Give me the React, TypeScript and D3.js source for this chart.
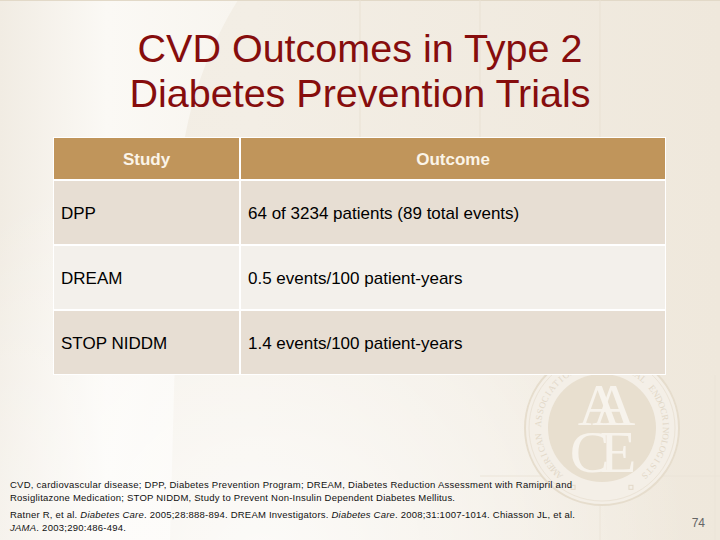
import React from 'react';
import * as d3 from 'd3';

// ---------- data ----------
const titleLines = ['CVD Outcomes in Type 2', 'Diabetes Prevention Trials'];
const headers = ['Study', 'Outcome'];
const studies = ['DPP', 'DREAM', 'STOP NIDDM'];
const outcomes = [
  '64 of 3234 patients (89 total events)',
  '0.5 events/100 patient-years',
  '1.4 events/100 patient-years',
];
const abbreviationLines = [
  'CVD, cardiovascular disease; DPP, Diabetes Prevention Program; DREAM, Diabetes Reduction Assessment with Ramipril and',
  'Rosiglitazone Medication; STOP NIDDM, Study to Prevent Non-Insulin Dependent Diabetes Mellitus.',
];
// segments: [text, italic]
const referenceLines: [string, boolean][][] = [
  [
    ['Ratner R, et al. ', false],
    ['Diabetes Care', true],
    ['. 2005;28:888-894. DREAM Investigators. ', false],
    ['Diabetes Care', true],
    ['. 2008;31:1007-1014. Chiasson JL, et al.', false],
  ],
  [
    ['JAMA', true],
    ['. 2003;290:486-494.', false],
  ],
];
const pageNumber = '74';
const sealRingText = 'AMERICAN ASSOCIATION OF CLINICAL ENDOCRINOLOGISTS';
const sealLetters = ['AA', 'CE'];

// ---------- layout ----------
const W = 720;
const H = 540;
const SANS = '"Liberation Sans", Arial, Helvetica, sans-serif';
const SERIF = '"Liberation Serif", "Times New Roman", serif';

export default function App() {
  const tableLeft = 53;
  const tableRight = 666;
  const colSplit = 240;
  const headerTop = 137;
  const headerBottom = 180;
  const tableBottom = 375;

  const xCol = d3.scaleOrdinal<string, number>().domain(headers).range([tableLeft, colSplit]);
  const colWidth = (h: string) => (h === headers[0] ? colSplit - tableLeft : tableRight - colSplit);
  const yRow = d3.scaleBand<string>().domain(studies).range([headerBottom, tableBottom]);
  const rowFill = ['#e7ded3', '#f3f0eb', '#e7ded3'];

  const abbrWidths = [562, 445];
  const refWidths = [565, 116];

  // seal
  const cx = 602;
  const cy = 428;
  const rOuter = 77;
  const rText = 64;
  const chars = sealRingText.split('');
  const angle = d3
    .scalePoint<number>()
    .domain(d3.range(chars.length))
    .range([-138, 138]);
  const pt = (deg: number, r: number) => {
    const a = (deg * Math.PI) / 180;
    return [cx + r * Math.sin(a), cy - r * Math.cos(a)];
  };
  const dots = [-154, 154].map((deg) => pt(deg, rText + 2));

  const curve = d3.path();
  curve.moveTo(0, 0);
  curve.lineTo(238, 0);
  curve.bezierCurveTo(210, 45, 188, 100, 180, 170);
  curve.lineTo(170, H);
  curve.lineTo(0, H);
  curve.closePath();

  return (
    <svg
      width={W}
      height={H}
      viewBox={`0 0 ${W} ${H}`}
      style={{ position: 'absolute', left: 0, top: 0, display: 'block' }}
    >
      <defs>
        <linearGradient id="bgBase" x1="0" x2="1" y1="0" y2="0">
          <stop offset="0" stopColor="#f2ede3" />
          <stop offset="0.35" stopColor="#f3eee5" />
          <stop offset="1" stopColor="#efe8dc" />
        </linearGradient>
        <linearGradient id="leftLight" x1="0" x2="238" y1="0" y2="0" gradientUnits="userSpaceOnUse">
          <stop offset="0" stopColor="#f1ece3" />
          <stop offset="0.45" stopColor="#fbf9f5" />
          <stop offset="1" stopColor="#f8f5ef" />
        </linearGradient>
        <radialGradient id="bottomGlow" cx="260" cy="560" r="430" gradientUnits="userSpaceOnUse">
          <stop offset="0" stopColor="#ffffff" stopOpacity="0.75" />
          <stop offset="0.6" stopColor="#ffffff" stopOpacity="0.35" />
          <stop offset="1" stopColor="#ffffff" stopOpacity="0" />
        </radialGradient>
      </defs>

      {/* background */}
      <rect x={0} y={0} width={W} height={H} fill="url(#bgBase)" />
      <path d={curve.toString()} fill="url(#leftLight)" />
      <rect x={0} y={0} width={W} height={H} fill="url(#bottomGlow)" />
      <line x1={0} x2={W} y1={0.5} y2={0.5} stroke="#e2d9c8" strokeWidth={1} />
      {[360, 480, 600].map((x) => (
        <line key={x} x1={x} x2={x} y1={0} y2={headerTop} stroke="#e9e1d3" strokeWidth={1} />
      ))}
      <line x1={600} x2={600} y1={tableBottom} y2={H} stroke="#ebe4d8" strokeWidth={1} />
      <line x1={715} x2={715} y1={tableBottom} y2={H} stroke="#ebe4d8" strokeWidth={1} />
      <line x1={480} x2={W} y1={476} y2={476} stroke="#ebe4d8" strokeWidth={1} />

      {/* seal */}
      <g>
        <circle cx={cx} cy={cy} r={rOuter} fill="#f4efe7" stroke="#e6ddcd" strokeWidth={2} />
        <circle cx={cx} cy={cy} r={rOuter - 4} fill="none" stroke="#ebe3d6" strokeWidth={1} />
        <circle cx={cx} cy={cy} r={54} fill="#e8dfcf" />
        {chars.map((c, i) => {
          const deg = angle(i)!;
          const [px, py] = pt(deg, rText);
          return (
            <text
              key={i}
              x={px}
              y={py}
              textAnchor="middle"
              dominantBaseline="central"
              transform={`rotate(${deg} ${px} ${py})`}
              fontFamily={SERIF}
              fontSize={9}
              fill="#e2d8c7"
            >
              {c}
            </text>
          );
        })}
        {dots.map(([dx, dy], i) => (
          <rect key={i} x={dx - 2} y={dy - 2} width={4} height={4} fill="none" stroke="#e2d8c7" strokeWidth={1} />
        ))}
        <text textAnchor="middle" fontFamily={SERIF} fontSize={60} fill="#f7f3ec">
          {sealLetters.map((t, i) => (
            <tspan
              key={t}
              x={i === 0 ? cx - 10 : cx - 4}
              y={i === 0 ? 425 : 472}
              letterSpacing={i === 0 ? -29 : -10}
            >
              {t}
            </tspan>
          ))}
        </text>
      </g>

      {/* title */}
      {titleLines.map((t, i) => (
        <text
          key={t}
          x={360}
          y={62 + i * 45}
          textAnchor="middle"
          fontFamily={SANS}
          fontSize={39.5}
          fill="#860d0d"
        >
          {t}
        </text>
      ))}

      {/* table */}
      <rect
        x={tableLeft}
        y={headerTop}
        width={tableRight - tableLeft}
        height={tableBottom - headerTop}
        fill="#ffffff"
      />
      {headers.map((h) => (
        <g key={h}>
          <rect
            x={xCol(h) + 1}
            y={headerTop + 1}
            width={colWidth(h) - 2}
            height={headerBottom - headerTop - 2}
            fill="#c0955b"
          />
          <text
            x={xCol(h) + colWidth(h) / 2}
            y={headerTop + (headerBottom - headerTop) / 2 + 6}
            textAnchor="middle"
            fontFamily={SANS}
            fontWeight="bold"
            fontSize={17}
            fill="#fbf4e8"
          >
            {h}
          </text>
        </g>
      ))}

      {studies.map((s, i) => {
        const y = yRow(s)!;
        const bh = yRow.bandwidth();
        return (
          <g key={s}>
            {headers.map((h) => (
              <rect
                key={h}
                x={xCol(h) + 1}
                y={y + 1}
                width={colWidth(h) - 2}
                height={bh - 2}
                fill={rowFill[i]}
              />
            ))}
            <text x={xCol(headers[0]) + 8} y={y + bh / 2 + 6} fontFamily={SANS} fontSize={17} fill="#000">
              {s}
            </text>
            <text x={xCol(headers[1]) + 8} y={y + bh / 2 + 6} fontFamily={SANS} fontSize={17} fill="#000">
              {outcomes[i]}
            </text>
          </g>
        );
      })}

      {/* footnotes */}
      {abbreviationLines.map((t, i) => (
        <text
          key={i}
          x={10}
          y={488 + i * 12.5}
          fontFamily={SANS}
          fontSize={9.5}
          fill="#111"
          textLength={abbrWidths[i]}
          lengthAdjust="spacing"
        >
          {t}
        </text>
      ))}
      {referenceLines.map((segs, i) => (
        <text
          key={i}
          x={10}
          y={518 + i * 12.5}
          fontFamily={SANS}
          fontSize={9.5}
          fill="#111"
          textLength={refWidths[i]}
          lengthAdjust="spacing"
        >
          {segs.map(([t, it], j) => (
            <tspan key={j} fontStyle={it ? 'italic' : 'normal'}>
              {t}
            </tspan>
          ))}
        </text>
      ))}
      <text x={705} y={527} textAnchor="end" fontFamily={SANS} fontSize={12} fill="#666">
        {pageNumber}
      </text>
    </svg>
  );
}
